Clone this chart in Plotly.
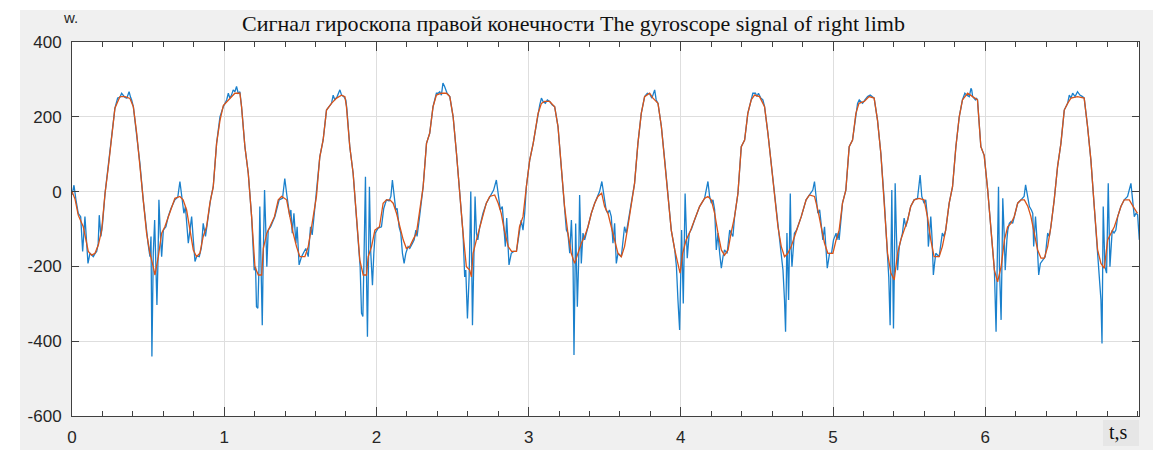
import plotly.graph_objects as go

# Raw gyroscope signal of the right limb, w. versus t (s)
t_raw = [
    0.000, 0.013, 0.026, 0.041, 0.057, 0.070, 0.085, 0.096, 0.105, 0.118, 0.130, 0.140, 0.151, 0.162, 0.172,
    0.179, 0.190, 0.201, 0.217, 0.239, 0.260, 0.282, 0.300, 0.315, 0.326, 0.337, 0.348, 0.360, 0.368, 0.375,
    0.385, 0.392, 0.403, 0.425, 0.446, 0.468, 0.490, 0.500, 0.512, 0.519, 0.525, 0.534, 0.543, 0.552, 0.558,
    0.565, 0.571, 0.580, 0.589, 0.600, 0.617, 0.632, 0.650, 0.676, 0.695, 0.709, 0.720, 0.735, 0.745, 0.764,
    0.775, 0.786, 0.797, 0.808, 0.820, 0.836, 0.850, 0.862, 0.877, 0.895, 0.910, 0.928, 0.950, 0.972,
    0.994, 1.016, 1.027, 1.037, 1.048, 1.059, 1.070, 1.081, 1.092, 1.103, 1.114, 1.136, 1.158, 1.180, 1.197,
    1.206, 1.212, 1.221, 1.228, 1.234, 1.241, 1.250, 1.256, 1.265, 1.274, 1.280, 1.289, 1.305, 1.333, 1.361,
    1.383, 1.398, 1.410, 1.420, 1.431, 1.438, 1.447, 1.458, 1.471, 1.479, 1.492, 1.508, 1.519, 1.536, 1.552,
    1.567, 1.578, 1.589, 1.606, 1.628, 1.650, 1.672,
    1.705, 1.716, 1.727, 1.742, 1.760, 1.771, 1.786, 1.799, 1.806, 1.825, 1.847, 1.869, 1.887, 1.893, 1.902,
    1.911, 1.919, 1.928, 1.935, 1.941, 1.948, 1.954, 1.963, 1.974, 1.983, 1.992, 2.011, 2.033, 2.048, 2.066,
    2.083, 2.095, 2.105, 2.116, 2.127, 2.136, 2.149, 2.160, 2.171, 2.182, 2.193, 2.208, 2.219, 2.237, 2.248,
    2.259, 2.267, 2.281, 2.307, 2.329, 2.350, 2.372, 2.383, 2.394, 2.405, 2.416, 2.427, 2.437, 2.448, 2.464,
    2.482, 2.504, 2.526, 2.547, 2.569, 2.580, 2.587, 2.598, 2.609, 2.620, 2.631, 2.640, 2.648, 2.657, 2.666,
    2.679, 2.700, 2.722, 2.744, 2.770, 2.788, 2.801, 2.814, 2.827, 2.838, 2.847, 2.856, 2.871, 2.886, 2.902,
    2.920, 2.937, 2.951, 2.963, 2.974, 2.985, 3.007, 3.030,
    3.062, 3.073, 3.084, 3.095, 3.110, 3.123, 3.138, 3.154, 3.171, 3.193, 3.214, 3.236, 3.248, 3.258, 3.270,
    3.281, 3.292, 3.298, 3.309, 3.320, 3.329, 3.335, 3.346, 3.357, 3.368, 3.390, 3.412, 3.434, 3.455, 3.466,
    3.481, 3.495, 3.509, 3.520, 3.531, 3.543, 3.554, 3.565, 3.576, 3.587, 3.609, 3.630, 3.641, 3.652, 3.674,
    3.696, 3.718, 3.740, 3.762, 3.780, 3.795, 3.810, 3.828, 3.838, 3.850, 3.872, 3.894, 3.916, 3.937, 3.960,
    3.971, 3.981, 3.992, 4.005, 4.016, 4.028, 4.042, 4.055, 4.070, 4.090, 4.123, 4.156, 4.178, 4.189, 4.200,
    4.211, 4.222, 4.233, 4.244, 4.255, 4.266, 4.277, 4.287, 4.304, 4.321, 4.331, 4.342, 4.353, 4.375, 4.397,
    4.419, 4.440, 4.462, 4.473, 4.490, 4.500, 4.510, 4.525, 4.539, 4.550, 4.572, 4.594, 4.616, 4.638, 4.655,
    4.671, 4.681, 4.688, 4.693, 4.697, 4.708, 4.719, 4.725, 4.730, 4.746, 4.760, 4.791, 4.823, 4.845, 4.867,
    4.878, 4.889, 4.900, 4.912, 4.922, 4.933, 4.944, 4.962, 4.977, 4.990, 5.003, 5.020, 5.025, 5.035, 5.040,
    5.062, 5.084, 5.106, 5.128, 5.150, 5.161, 5.172, 5.183, 5.194, 5.209, 5.227, 5.244, 5.259, 5.270, 5.292,
    5.314, 5.336, 5.347, 5.358, 5.366, 5.375, 5.381, 5.386, 5.392, 5.397, 5.403, 5.408, 5.416, 5.424, 5.435,
    5.445, 5.456, 5.467, 5.478, 5.490, 5.510, 5.533, 5.555, 5.572, 5.583, 5.598, 5.609, 5.620, 5.626, 5.634,
    5.642, 5.651, 5.659, 5.667, 5.675, 5.697, 5.718, 5.729, 5.740, 5.763, 5.785, 5.807, 5.829, 5.850, 5.866,
    5.879, 5.895, 5.906, 5.911, 5.917, 5.935, 5.942, 5.949, 5.971, 5.993, 6.016, 6.040, 6.050, 6.060, 6.071,
    6.080, 6.087, 6.093, 6.104, 6.110, 6.115, 6.124, 6.131, 6.142, 6.148, 6.158, 6.169, 6.180, 6.213, 6.235,
    6.255, 6.265, 6.277, 6.290, 6.303, 6.312, 6.318, 6.324, 6.330, 6.340, 6.351, 6.362, 6.377, 6.394, 6.410,
    6.421, 6.431, 6.453, 6.475, 6.497, 6.519, 6.541, 6.552, 6.563, 6.574, 6.590, 6.606, 6.622, 6.639, 6.650,
    6.672, 6.694, 6.716, 6.738, 6.749, 6.760, 6.767, 6.771, 6.775, 6.786, 6.797, 6.808, 6.819, 6.834, 6.846,
    6.858, 6.870, 6.891, 6.913, 6.935, 6.957, 6.968, 6.979, 6.990, 7.001, 7.012,
]
w_raw = [
    -9, 17, -22, -58, -67, -160, -67, -129, -192, -165, -170, -174, -166, -160, -140,
    -63, -120, -85, -5, 67, 138, 223, 250, 252, 263, 256, 252, 250, 258, 267,
    252, 245, 227, 156, 76, -22, -111, -140, -174, -120, -441, -165, -76, -218, -303,
    -183, -22, -111, -174, -103, -94, -67, -45, -22, -15, 27, -5, -58, -40, -138,
    -103, -67, -129, -187, -172, -174, -150, -85, -120, -58, -22, 13, 129, 200,
    227, 245, 263, 250, 258, 272, 267, 281, 263, 267, 227, 120, 49, -67, -210,
    -201, -308, -312, -210, -40, -228, -357, -183, 4, -111, -201, -103, -94, -67, -22,
    -18, 35, -5, -31, -67, -49, -111, -58, -138, -94, -196, -174, -165, -152, -174,
    -94, -116, -67, -13, 93, 138, 218,
    236, 258, 245, 254, 272, 258, 254, 245, 220, 120, 49, -67, -183, -201, -325,
    -334, -165, 40, -228, -388, -183, 13, -165, -250, -165, -111, -98, -94, -45, -22,
    -25, -13, 31, -13, -49, -45, -94, -111, -165, -192, -165, -147, -152, -138, -129,
    -103, -120, -76, 13, 129, 156, 227, 245, 263, 263, 267, 258, 290, 281, 263,
    254, 200, 102, -5, -111, -228, -210, -339, -228, 0, -357, -183, -13, -111, -129,
    -94, -58, -31, -13, 4, 31, -13, -49, -40, -111, -147, -71, -196, -165, -160,
    -160, -111, -76, -103, -58, 13, 84, 129,
    209, 232, 250, 241, 236, 245, 241, 232, 227, 174, 67, -40, -103, -111, -165,
    -76, -201, -437, -85, -308, -183, -9, -192, -111, -129, -94, -58, -31, -13, 0,
    27, -13, -49, -58, -49, -67, -138, -85, -192, -165, -174, -94, -111, -85, -31,
    22, 129, 209, 254, 263, 261, 250, 272, 245, 236, 174, 84, -5, -103, -156,
    -201, -290, -370, -103, -299, -5, -178, -111, -100, -76, -40, -18, 27, -13, -31,
    -22, -49, -156, -111, -165, -205, -174, -156, -165, -103, -111, -120, -67, -5, 120,
    138, 209, 245, 263, 263, 254, 263, 250, 245, 227, 156, 76, 4, -94, -147,
    -210, -290, -375, -245, -111, -290, -5, -156, -201, -111, -103, -67, -22, -9, 4,
    27, -13, -58, -49, -94, -129, -94, -205, -165, -165, -129, -111, -129, -111, -129,
    -31, 4, 120, 138, 209, 236, 245, 241, 236, 245, 254, 258, 254, 250, 191,
    102, -22, -111, -192, -228, -357, -201, 4, -201, -366, -201, 22, -111, -210, -147,
    -129, -111, -71, -94, -76, -40, -22, -18, 44, -13, -31, -22, -67, -147, -111,
    -67, -129, -223, -192, -165, -174, -111, -120, -103, -31, 13, 120, 200, 245, 263,
    258, 254, 276, 272, 254, 245, 250, 245, 120, 97, 4, -111, -165, -210, -375,
    -201, 13, -201, -343, -183, -18, -111, -210, -129, -103, -85, -80, -85, -31, -22,
    -13, 18, -13, -40, -49, -58, -147, -111, -67, -129, -223, -192, -183, -174, -111,
    -120, -94, -22, 67, 129, 218, 236, 258, 250, 263, 254, 267, 258, 254, 250,
    174, 84, -40, -165, -201, -290, -406, -201, -40, -201, -218, 22, -201, -103, -111,
    -103, -67, -40, -22, -13, 22, -22, -67, -58, -62, -129,
]

# Filtered signal
t_filt = [
    0.000, 0.020, 0.041, 0.074, 0.107, 0.129, 0.151, 0.173, 0.195, 0.217, 0.239, 0.260, 0.282, 0.315, 0.348,
    0.381, 0.403, 0.425, 0.446, 0.468, 0.490, 0.512, 0.534, 0.545, 0.567, 0.589, 0.610, 0.632, 0.654, 0.676,
    0.709, 0.730, 0.753, 0.775, 0.797, 0.818, 0.840, 0.862, 0.884, 0.906, 0.928, 0.950, 0.972, 0.994, 1.037,
    1.070, 1.103, 1.114, 1.136, 1.158, 1.180, 1.202, 1.224, 1.246, 1.257, 1.280, 1.300, 1.330, 1.355, 1.377,
    1.410, 1.430, 1.453, 1.475, 1.497, 1.530, 1.552, 1.574, 1.606, 1.628, 1.650, 1.672, 1.705, 1.738, 1.771,
    1.793, 1.803, 1.825, 1.847, 1.869, 1.891, 1.913, 1.935, 1.946, 1.968, 1.990, 2.020, 2.044, 2.066, 2.088,
    2.110, 2.132, 2.154, 2.176, 2.197, 2.219, 2.240, 2.263, 2.285, 2.307, 2.329, 2.350, 2.372, 2.394, 2.427,
    2.460, 2.482, 2.504, 2.526, 2.547, 2.569, 2.591, 2.613, 2.624, 2.635, 2.657, 2.679, 2.700, 2.722, 2.744,
    2.777, 2.800, 2.820, 2.840, 2.866, 2.888, 2.920, 2.940, 2.963, 2.985, 3.007, 3.030, 3.062, 3.084, 3.105,
    3.138, 3.171, 3.193, 3.214, 3.236, 3.258, 3.280, 3.302, 3.324, 3.346, 3.368, 3.390, 3.412, 3.434, 3.455,
    3.480, 3.499, 3.521, 3.543, 3.565, 3.587, 3.609, 3.630, 3.652, 3.674, 3.696, 3.718, 3.740, 3.762, 3.795,
    3.817, 3.850, 3.872, 3.894, 3.916, 3.937, 3.960, 3.980, 3.995, 4.012, 4.035, 4.057, 4.090, 4.123, 4.156,
    4.178, 4.200, 4.222, 4.244, 4.266, 4.287, 4.310, 4.330, 4.353, 4.375, 4.397, 4.419, 4.440, 4.462, 4.484,
    4.517, 4.550, 4.572, 4.594, 4.616, 4.638, 4.660, 4.681, 4.703, 4.725, 4.747, 4.769, 4.791, 4.823, 4.845,
    4.878, 4.900, 4.922, 4.944, 4.966, 4.999, 5.020, 5.040, 5.062, 5.084, 5.106, 5.128, 5.150, 5.170, 5.205,
    5.237, 5.270, 5.292, 5.314, 5.336, 5.358, 5.380, 5.402, 5.424, 5.445, 5.467, 5.490, 5.510, 5.533, 5.565,
    5.598, 5.620, 5.642, 5.664, 5.697, 5.718, 5.740, 5.763, 5.785, 5.807, 5.829, 5.850, 5.884, 5.917, 5.949,
    5.971, 5.993, 6.016, 6.040, 6.060, 6.081, 6.104, 6.126, 6.147, 6.169, 6.190, 6.213, 6.235, 6.257, 6.280,
    6.300, 6.322, 6.344, 6.366, 6.388, 6.410, 6.431, 6.453, 6.475, 6.497, 6.519, 6.541, 6.563, 6.606, 6.650,
    6.672, 6.694, 6.716, 6.738, 6.760, 6.782, 6.804, 6.826, 6.848, 6.870, 6.891, 6.913, 6.946, 6.972, 7.000,
]
w_filt = [
    0, -20, -63, -94, -160, -170, -165, -143, -103, -5, 67, 138, 223, 254, 254,
    249, 227, 156, 76, -22, -111, -165, -201, -223, -174, -111, -94, -67, -40, -18,
    -13, -22, -49, -103, -156, -174, -165, -120, -94, -31, 13, 129, 190, 230, 250,
    263, 263, 227, 120, 49, -67, -201, -223, -223, -152, -111, -94, -67, -22, -13,
    -22, -67, -111, -147, -174, -174, -147, -94, -13, 93, 138, 218, 236, 250, 258,
    254, 227, 120, 49, -67, -183, -223, -223, -174, -147, -103, -94, -31, -22, -22,
    -31, -58, -94, -129, -152, -147, -129, -111, -49, 13, 129, 156, 227, 258, 263,
    263, 254, 200, 102, -5, -111, -201, -210, -228, -165, -129, -94, -58, -31, -13,
    -9, -31, -58, -103, -147, -160, -160, -94, -67, 13, 84, 129, 209, 236, 241,
    241, 227, 174, 67, -40, -111, -165, -192, -165, -138, -120, -94, -58, -31, -13,
    -4, -40, -58, -94, -129, -165, -174, -147, -94, -31, 22, 129, 209, 254, 263,
    250, 236, 174, 84, -5, -103, -156, -192, -218, -165, -129, -111, -76, -40, -18,
    -13, -22, -58, -111, -156, -170, -156, -111, -67, -5, 120, 138, 209, 245, 258,
    254, 227, 156, 76, 4, -94, -147, -174, -165, -147, -120, -94, -67, -22, -9,
    -13, -49, -94, -138, -165, -165, -129, -103, -31, 4, 120, 138, 209, 236, 241,
    254, 250, 191, 102, -22, -165, -218, -236, -165, -129, -103, -76, -40, -22, -18,
    -22, -67, -129, -174, -174, -147, -103, -31, 13, 120, 200, 245, 263, 254, 245,
    120, 97, 4, -111, -210, -241, -201, -129, -94, -85, -67, -31, -22, -22, -40,
    -67, -111, -156, -178, -178, -147, -94, -22, 67, 129, 218, 236, 250, 254, 250,
    174, 84, -40, -156, -192, -205, -129, -111, -94, -67, -40, -22, -22, -40, -58,
]

x_ticks = [0, 1, 2, 3, 4, 5, 6]
y_ticks = [400, 200, 0, -200, -400, -600]
y_tick_text = ["400", "200", "0", "-200", "-400", "-600"]

TITLE = "Сигнал гироскопа правой конечности The gyroscope signal of right limb"

# Figure geometry (pixels); the canvas is a little taller than the window,
# the plot frame itself sits between y=42 and y=416
W, H = 1153, 459
ML, MR, MT, MB = 72, 14, 42, 43
PW, PH = W - ML - MR, H - MT - MB


def px_x(p):
    return (p - ML) / PW


def px_y(p):
    return (H - MB - p) / PH


fig = go.Figure()
fig.add_trace(go.Scatter(x=t_raw, y=w_raw, mode="lines",
                         line=dict(color="#1a80cc", width=1.3), name="raw"))
fig.add_trace(go.Scatter(x=t_filt, y=w_filt, mode="lines",
                         line=dict(color="#D95319", width=1.3), name="filtered"))

axis_color = "#404040"
tick_font = dict(family="Liberation Sans, Arial, sans-serif", size=17, color="#262626")

fig.update_xaxes(
    range=[0, 7.01], tickvals=x_ticks, ticks="inside", ticklen=9, tickcolor=axis_color,
    showline=True, linecolor=axis_color, linewidth=1, mirror="allticks",
    showgrid=True, gridcolor="#dedede", gridwidth=1, zeroline=False,
    tickfont=tick_font, ticklabelstandoff=6, automargin=False,
    minor=dict(dtick=0.2, ticks="inside", ticklen=5, tickcolor=axis_color, showgrid=False),
)
fig.update_yaxes(
    range=[-600, 400], tickvals=y_ticks, ticktext=y_tick_text, ticks="inside", ticklen=7,
    tickcolor=axis_color, showline=True, linecolor=axis_color, linewidth=1, mirror="allticks",
    showgrid=True, gridcolor="#dedede", gridwidth=1, zeroline=False,
    tickfont=tick_font, ticklabelstandoff=6, automargin=False,
)

shapes = [
    # white band along the top and left edges of the window
    dict(type="rect", xref="paper", yref="paper", x0=px_x(0), x1=px_x(W), y0=px_y(10), y1=px_y(0),
         fillcolor="white", line=dict(width=0), layer="below"),
    dict(type="rect", xref="paper", yref="paper", x0=px_x(0), x1=px_x(20), y0=px_y(H), y1=px_y(0),
         fillcolor="white", line=dict(width=0), layer="below"),
    # slightly darker panel behind the x-axis caption
    dict(type="rect", xref="paper", yref="paper", x0=px_x(1103), x1=px_x(1139), y0=px_y(446), y1=px_y(420),
         fillcolor="#e6e6e6", line=dict(width=0), layer="below"),
]

annotations = [
    dict(text=TITLE, x=px_x(573), y=px_y(23), xref="paper", yref="paper",
         xanchor="center", yanchor="middle", showarrow=False,
         font=dict(family="Liberation Serif", size=22, color="#111111")),
    dict(text="w.", x=px_x(70), y=px_y(18), xref="paper", yref="paper",
         xanchor="center", yanchor="middle", showarrow=False,
         font=dict(family="Liberation Sans, Arial, sans-serif", size=15, color="#262626")),
    dict(text="t,s", x=px_x(1118), y=px_y(432), xref="paper", yref="paper",
         xanchor="center", yanchor="middle", showarrow=False,
         font=dict(family="Liberation Serif", size=20, color="#111111")),
]

fig.update_layout(
    width=W, height=H, margin=dict(l=ML, r=MR, t=MT, b=MB),
    paper_bgcolor="#f0f0f0", plot_bgcolor="white", showlegend=False,
    shapes=shapes, annotations=annotations,
)

fig.write_html("out.html")
